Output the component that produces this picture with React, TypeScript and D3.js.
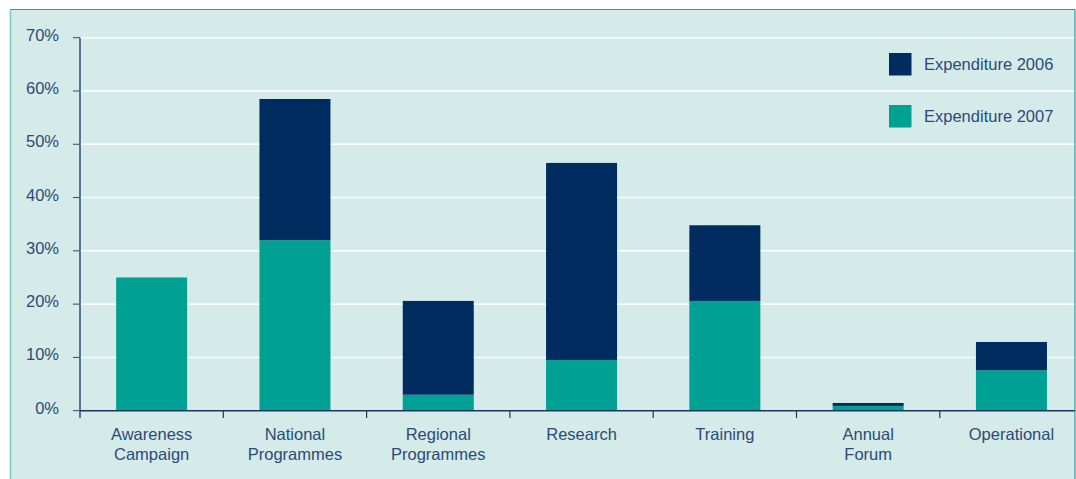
import React from "react";
import * as d3 from "d3";

const categories = [
  ["Awareness", "Campaign"],
  ["National", "Programmes"],
  ["Regional", "Programmes"],
  ["Research"],
  ["Training"],
  ["Annual", "Forum"],
  ["Operational"],
];
const exp2007 = [25, 32, 3, 9.5, 20.6, 0.9, 7.6];
const exp2006 = [0, 26.5, 17.6, 37, 14.2, 0.55, 5.3];
const yTicks = [0, 10, 20, 30, 40, 50, 60, 70];
const seriesNames = ["Expenditure 2006", "Expenditure 2007"];

const W = 1076;
const H = 479;
const C2006 = "#002c60";
const C2007 = "#00a093";
const TEXT = "#2b4a78";
const FONT = "'Liberation Sans', Arial, sans-serif";
const FS = 16.5;

export default function App() {
  const x0 = 80;
  const bandW = 143.3;
  const x = d3
    .scaleBand<number>()
    .domain(d3.range(categories.length))
    .range([x0, x0 + bandW * categories.length])
    .paddingInner(0)
    .paddingOuter(0);
  const y = d3.scaleLinear().domain([0, 70]).range([410.7, 37.7]);
  const barW = 71;

  const stacked = d3.stack<number>().keys(["a", "b"]).value((i, k) =>
    k === "a" ? exp2007[i] : exp2006[i]
  )(d3.range(categories.length));

  return (
    <svg
      width={W}
      height={H}
      style={{ position: "absolute", left: 0, top: 0 }}
      fontFamily={FONT}
    >
      <rect x={10} y={9.5} width={1065} height={H} fill="#d5ebe9" />
      <line x1={10} x2={1075} y1={9.5} y2={9.5} stroke="#2a9d8f" strokeWidth={1.2} />
      <line x1={10.5} x2={10.5} y1={9.5} y2={H} stroke="#7ccdc3" strokeWidth={1.5} />
      <line x1={1075} x2={1075} y1={9.5} y2={H} stroke="#2a9d8f" strokeWidth={1.2} />

      {yTicks.map((t) => (
        <g key={t}>
          {t > 0 && (
            <line x1={x0} x2={1074} y1={y(t)} y2={y(t)} stroke="#ffffff" strokeWidth={1.5} />
          )}
          <line x1={73} x2={x0} y1={y(t)} y2={y(t)} stroke="#2c4f7c" strokeWidth={1} />
          <text
            x={59}
            y={y(t)}
            dy={3}
            textAnchor="end"
            fontSize={FS}
            fill={TEXT}
          >
            {t}%
          </text>
        </g>
      ))}

      {stacked.map((layer, li) =>
        layer.map((d, i) => {
          const h = y(d[0]) - y(d[1]);
          if (h <= 0) return null;
          const cx = (x(i) as number) + x.bandwidth() / 2;
          return (
            <rect
              key={li + "-" + i}
              x={cx - barW / 2}
              y={y(d[1])}
              width={barW}
              height={h}
              fill={li === 0 ? C2007 : C2006}
            />
          );
        })
      )}

      <line x1={x0} x2={x0} y1={y(70)} y2={418} stroke="#2c4f7c" strokeWidth={1.5} />
      <line x1={x0} x2={1075} y1={y(0)} y2={y(0)} stroke="#1d3660" strokeWidth={1.5} />
      {d3.range(1, categories.length).map((i) => (
        <line
          key={i}
          x1={x(i) as number}
          x2={x(i) as number}
          y1={y(0)}
          y2={418}
          stroke="#1d3660"
          strokeWidth={1.2}
        />
      ))}

      {categories.map((lines, i) => {
        const cx = (x(i) as number) + x.bandwidth() / 2;
        return (
          <text key={i} textAnchor="middle" fontSize={FS} fill={TEXT}>
            {lines.map((l, j) => (
              <tspan key={j} x={cx} y={439.5 + j * 20.5}>
                {l}
              </tspan>
            ))}
          </text>
        );
      })}

      {seriesNames.map((s, i) => (
        <g key={s} transform={`translate(889, ${53 + i * 52})`}>
          <rect width={22.5} height={22.5} fill={i === 0 ? C2006 : C2007} />
          <text x={35} y={11.5} dy="0.35em" fontSize={FS} fill={TEXT}>
            {s}
          </text>
        </g>
      ))}
    </svg>
  );
}
